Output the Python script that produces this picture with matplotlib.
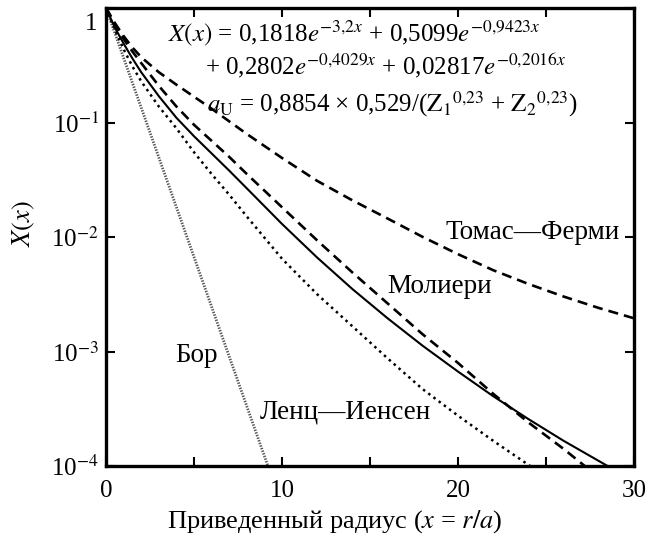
import matplotlib
matplotlib.use("Agg")
import matplotlib.pyplot as plt
from matplotlib.ticker import FixedLocator, NullLocator

plt.rcParams["font.family"] = ["Liberation Serif", "DejaVu Serif"]
plt.rcParams["mathtext.fontset"] = "stix"

# Бор: экспонента, прямая в полулогарифмическом масштабе
x_bohr = [0, 9.2]
y_bohr = [1.0, 1.0e-4]

# Ленц-Иенсен (точки)
x_lj = [0, 0.5, 1, 1.5, 2, 3, 4, 5, 6, 7, 8, 10, 12, 14, 16, 18, 20, 22, 24.1]
y_lj = [1.0, 0.646, 0.437, 0.309, 0.229, 0.138, 0.0891, 0.0550, 0.0355, 0.0234,
        0.0151, 0.00646, 0.00316, 0.00166, 0.000871, 0.000468, 0.000275,
        0.000166, 0.0001]

# универсальный потенциал (сплошная)
x_univ = [0, 0.5, 1, 1.5, 2, 3, 4, 5, 6, 7, 8, 10, 12, 14, 16, 18, 20, 22, 24,
          26, 28.5]
y_univ = [1.0, 0.676, 0.490, 0.363, 0.275, 0.170, 0.110, 0.0759, 0.0537,
          0.0380, 0.0266, 0.0130, 0.00661, 0.00351, 0.00195, 0.00112, 0.000668,
          0.000407, 0.000257, 0.000166, 0.0001]

# Мольер (штрихи)
x_mol = [0, 0.5, 1, 1.5, 2, 3, 4, 5, 6, 7, 8, 10, 12, 14, 16, 18, 20, 22, 24,
         26, 27.2]
y_mol = [1.0, 0.724, 0.537, 0.417, 0.331, 0.209, 0.138, 0.0955, 0.0692, 0.0501,
         0.0355, 0.0182, 0.00933, 0.00490, 0.00263, 0.00141, 0.000794,
         0.000427, 0.000240, 0.000141, 0.0001]

# Томас-Ферми (штрихи)
x_tf = [0, 0.5, 1, 1.5, 2, 3, 4, 5, 6, 8, 10, 12, 14, 16, 18, 20, 22, 24, 26,
        28, 30]
y_tf = [1.0, 0.741, 0.569, 0.452, 0.372, 0.275, 0.214, 0.168, 0.132, 0.0794,
        0.0490, 0.0309, 0.0209, 0.0145, 0.0100, 0.00708, 0.00513, 0.00389,
        0.00302, 0.00240, 0.00195]

y_ticks = [1e-4, 1e-3, 1e-2, 1e-1, 1]
y_ticklabels = [r"10$^{-4}$", r"10$^{-3}$", r"10$^{-2}$", r"10$^{-1}$", ""]
x_ticks = [0, 10, 20, 30]
x_minor = [5, 15, 25]

fig = plt.figure(figsize=(6.49, 5.47), dpi=100)
ax = fig.add_axes([0.1633, 0.148, 0.8137, 0.8374])

dash = (0, (3.8, 2.3))
ax.plot(x_bohr, y_bohr, color="#555555", lw=2.0, ls=(0, (0.5, 0.5)))
ax.plot(x_lj, y_lj, color="black", lw=1.8, ls=(0, (1, 1.6)))
ax.plot(x_univ, y_univ, color="black", lw=1.5)
ax.plot(x_mol, y_mol, color="black", lw=1.9, ls=dash)
ax.plot(x_tf, y_tf, color="black", lw=1.9, ls=dash)

ax.set_yscale("log")
ax.set_xlim(0, 30)
ax.set_ylim(1e-4, 1)
ax.yaxis.set_major_locator(FixedLocator(y_ticks))
ax.yaxis.set_minor_locator(NullLocator())
ax.set_yticklabels(y_ticklabels)
ax.set_xticks(x_ticks)
ax.xaxis.set_minor_locator(FixedLocator(x_minor))

for s in ax.spines.values():
    s.set_linewidth(2.4)
ax.tick_params(which="both", direction="in", top=True, right=True,
               length=6.5, width=1.5, labelsize=18)
ax.tick_params(axis="y", pad=5)
ax.tick_params(axis="x", pad=10)

# метка "1" у верхнего края
ax.text(-0.017, 0.965, "1", transform=ax.transAxes, ha="right", va="center",
        fontsize=18)

ax.text(-0.155, 0.53, r"$X(x)$", transform=ax.transAxes, rotation=90,
        ha="center", va="center", fontsize=19)
ax.text(0.432, -0.122, r"Приведенный радиус ($x$ = $r/a$)",
        transform=ax.transAxes, ha="center", va="center", fontsize=19)

fs = 18
ax.text(0.117, 0.945, r"$X(x)$ = 0,1818$e^{-3{,}2x}$ + 0,5099$e^{-0{,}9423x}$",
        transform=ax.transAxes, ha="left", va="center", fontsize=fs)
ax.text(0.1875, 0.874, r"+ 0,2802$e^{-0{,}4029x}$ + 0,02817$e^{-0{,}2016x}$",
        transform=ax.transAxes, ha="left", va="center", fontsize=fs)
ax.text(0.191, 0.79,
        r"$a_\mathrm{U}$ = 0,8854 × 0,529/($\mathrm{Z}_1{}^{0{,}23}$ + $\mathrm{Z}_2{}^{0{,}23}$)",
        transform=ax.transAxes, ha="left", va="center", fontsize=fs)

lfs = 19.5
ax.text(0.131, 0.242, "Бор", transform=ax.transAxes, ha="left", va="center", fontsize=lfs)
ax.text(0.292, 0.118, "Ленц—Иенсен", transform=ax.transAxes, ha="left", va="center", fontsize=lfs)
ax.text(0.532, 0.391, "Молиери", transform=ax.transAxes, ha="left", va="center", fontsize=lfs)
ax.text(0.642, 0.509, "Томас—Ферми", transform=ax.transAxes, ha="left", va="center", fontsize=lfs)

fig.savefig("out.png", dpi=100)
